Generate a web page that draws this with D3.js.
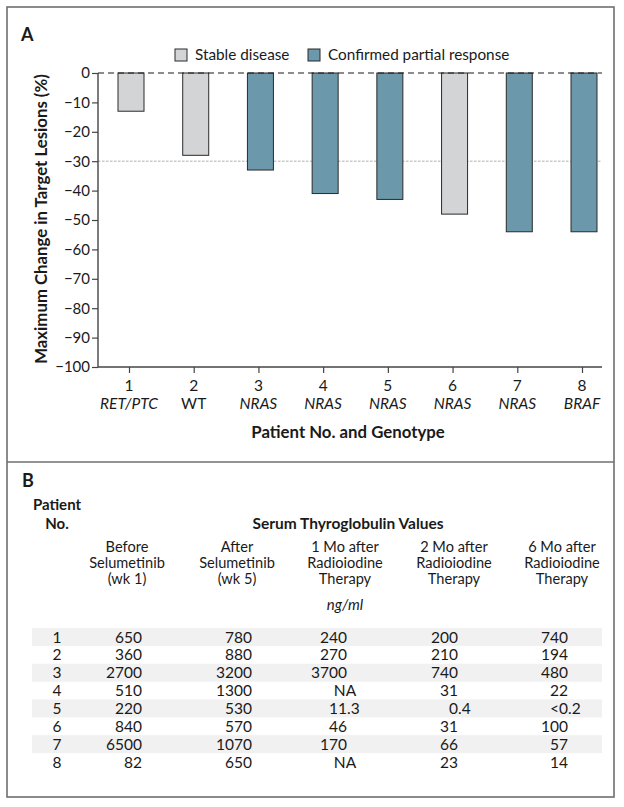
<!DOCTYPE html>
<html><head><meta charset="utf-8">
<script src="https://cdn.jsdelivr.net/npm/d3@7"></script>
<style>
body{margin:0;background:#fff;}
svg text{font-family:Lato,"Noto Sans",sans-serif;fill:#1a1a1a;}
</style></head>
<body>
<svg id="c" width="624" height="807"></svg>
<script>
// ---- Panel A data ----
const patients = ["1","2","3","4","5","6","7","8"];
const genotypes = ["RET/PTC","WT","NRAS","NRAS","NRAS","NRAS","NRAS","BRAF"];
const maxChange = [-13,-28,-33,-41,-43,-48,-54,-54];
const response = ["Stable disease","Stable disease","Confirmed partial response","Confirmed partial response","Confirmed partial response","Stable disease","Confirmed partial response","Confirmed partial response"];
const legendLabels = ["Stable disease","Confirmed partial response"];
const yTicks = [0,-10,-20,-30,-40,-50,-60,-70,-80,-90,-100];

// ---- Panel B data ----
const colHeaders = [["Before","Selumetinib","(wk 1)"],["After","Selumetinib","(wk 5)"],["1 Mo after","Radioiodine","Therapy"],["2 Mo after","Radioiodine","Therapy"],["6 Mo after","Radioiodine","Therapy"]];
const beforeSel = ["650","360","2700","510","220","840","6500","82"];
const afterSel = ["780","880","3200","1300","530","570","1070","650"];
const mo1 = ["240","270","3700","NA","11.3","46","170","NA"];
const mo2 = ["200","210","740","31","0.4","31","66","23"];
const mo6 = ["740","194","480","22","<0.2","100","57","14"];

const svg = d3.select("#c");
const colors = {"Stable disease":"#d3d4d5","Confirmed partial response":"#6b98aa"};

// frame
svg.append("rect").attr("x",7).attr("y",7).attr("width",607).attr("height",790)
  .attr("fill","none").attr("stroke","#6f6f6f").attr("stroke-width",1.6);
svg.append("line").attr("x1",7).attr("x2",614).attr("y1",462).attr("y2",462)
  .attr("stroke","#6f6f6f").attr("stroke-width",1.6);

svg.append("text").attr("x",21).attr("y",41).attr("font-size",18).attr("font-weight","bold").text("A");

// scales
const y = d3.scaleLinear().domain([-100,0]).range([367,73]);
const x = d3.scalePoint().domain(patients).range([129,582]);
const bw = 26;

// reference lines
svg.append("line").attr("x1",98).attr("x2",602).attr("y1",y(-30)).attr("y2",y(-30))
  .attr("stroke","#9a9a9a").attr("stroke-width",0.8).attr("stroke-dasharray","2.5,1.5");

// bars
svg.selectAll("rect.bar").data(patients).join("rect").attr("class","bar")
  .attr("x",d=>x(d)-bw/2+2).attr("width",bw)
  .attr("y",y(0)).attr("height",(d,i)=>y(maxChange[i])-y(0))
  .attr("fill",(d,i)=>colors[response[i]]).attr("stroke","#2a2a2a").attr("stroke-width",1);

svg.append("line").attr("x1",98).attr("x2",602).attr("y1",y(0)).attr("y2",y(0))
  .attr("stroke","#1a1a1a").attr("stroke-width",1.2).attr("stroke-dasharray","6,4");

// y axis
const yAx = svg.append("g").attr("transform","translate(98,0)")
  .call(d3.axisLeft(y).tickValues(yTicks).tickSize(6).tickPadding(2).tickFormat(d=>d===0?"0":"\u2212"+Math.abs(d)));
yAx.select(".domain").attr("stroke","#444").attr("stroke-width",1.4).attr("d","M0,73V367");
yAx.selectAll(".tick line").attr("stroke","#444").attr("stroke-width",1.2);
yAx.selectAll(".tick text").attr("font-size",15).attr("fill","#1a1a1a").attr("font-family","Lato");

// x axis
const xAx = svg.append("g").attr("transform","translate(0,367)")
  .call(d3.axisBottom(x).tickSize(6).tickFormat(""));
xAx.select(".domain").attr("stroke","#444").attr("stroke-width",1.4).attr("d","M98,0H602");
xAx.selectAll(".tick line").attr("stroke","#444").attr("stroke-width",1.2);
svg.selectAll("text.num").data(patients).join("text").attr("class","num")
  .attr("x",d=>x(d)).attr("y",391).attr("text-anchor","middle").attr("font-size",15.5).text(d=>d);
svg.selectAll("text.geno").data(patients).join("text").attr("class","geno")
  .attr("x",d=>x(d)).attr("y",409).attr("text-anchor","middle").attr("font-size",15.5)
  .attr("font-style",(d,i)=>genotypes[i]==="WT"?"normal":"italic").text((d,i)=>genotypes[i]);

svg.append("text").attr("x",348).attr("y",438).attr("text-anchor","middle")
  .attr("font-size",16.8).attr("font-weight","bold").text("Patient No. and Genotype");
svg.append("text").attr("transform","translate(47,219) rotate(-90)").attr("text-anchor","middle")
  .attr("font-size",16.8).attr("font-weight","bold").text("Maximum Change in Target Lesions (%)");

// legend
const lg = svg.append("g");
const legX = [175,308];
legendLabels.forEach((l,i)=>{
  lg.append("rect").attr("x",legX[i]).attr("y",49).attr("width",12).attr("height",12)
    .attr("fill",colors[l]).attr("stroke","#2a2a2a").attr("stroke-width",1);
  lg.append("text").attr("x",legX[i]+20).attr("y",60).attr("font-size",15.3).text(l);
});

// ---- Panel B ----
svg.append("text").attr("x",22).attr("y",487).attr("font-size",18).attr("font-weight","bold").text("B");
svg.append("text").attr("x",57).attr("y",510).attr("text-anchor","middle").attr("font-size",15).attr("font-weight","bold").text("Patient");
svg.append("text").attr("x",57).attr("y",529).attr("text-anchor","middle").attr("font-size",15).attr("font-weight","bold").text("No.");
svg.append("text").attr("x",348).attr("y",529).attr("text-anchor","middle").attr("font-size",15.5).attr("font-weight","bold").text("Serum Thyroglobulin Values");

const headCenters = [127,237,345,454,562];
const anchors = [142,252,347,458,568];
colHeaders.forEach((h,i)=>{
  h.forEach((line,j)=>{
    svg.append("text").attr("x",headCenters[i]).attr("y",552+j*16).attr("text-anchor","middle")
      .attr("font-size",14.6).text(line);
  });
});
svg.append("text").attr("x",345).attr("y",610).attr("text-anchor","middle")
  .attr("font-size",15).attr("font-style","italic").text("ng/ml");

const rowY = d3.scalePoint().domain(patients).range([637,762]);
svg.selectAll("rect.band").data(patients.filter((d,i)=>i%2===0)).join("rect").attr("class","band")
  .attr("x",32).attr("width",570).attr("y",d=>rowY(d)-9).attr("height",18).attr("fill","#f1f1f1");

svg.selectAll("text.pno").data(patients).join("text").attr("class","pno")
  .attr("x",57).attr("y",d=>rowY(d)+5.5).attr("text-anchor","middle").attr("font-size",15.5).text(d=>d);

const cols = [beforeSel,afterSel,mo1,mo2,mo6];
cols.forEach((col,ci)=>{
  col.forEach((v,ri)=>{
    const yy = rowY(patients[ri])+5.5;
    if(v==="NA"){
      svg.append("text").attr("x",headCenters[ci]).attr("y",yy).attr("text-anchor","middle").attr("font-size",15.5).text(v);
    } else {
      const parts = v.split(".");
      svg.append("text").attr("x",anchors[ci]).attr("y",yy).attr("text-anchor","end").attr("font-size",15.5).text(parts[0]);
      if(parts.length>1) svg.append("text").attr("x",anchors[ci]).attr("y",yy).attr("text-anchor","start").attr("font-size",15.5).text("."+parts[1]);
    }
  });
});
</script>
</body></html>
